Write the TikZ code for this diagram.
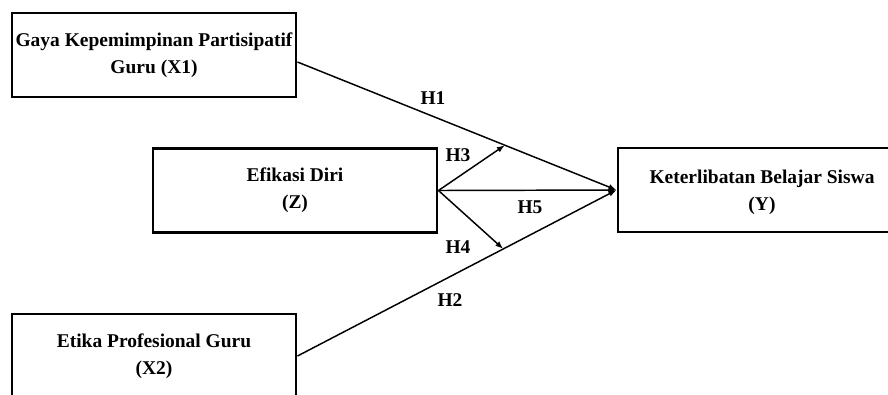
\documentclass[tikz,border=0pt]{standalone}
\usepackage{fontspec}
\setmainfont{Liberation Serif}
\usetikzlibrary{arrows.meta}

\tikzset{every picture/.style={line width=0.75pt}}
\tikzset{
  varbox/.style={draw, line width=2.2pt, minimum width=213pt, minimum height=63pt,
    inner sep=0pt, align=center, font=\fontsize{14.6}{20}\selectfont\bfseries},
  hyplabel/.style={font=\fontsize{14.6}{18}\selectfont\bfseries, inner sep=0pt},
  hyparrow/.style={line width=1.1pt, -{Latex[length=6pt,width=4.5pt]}},
  hypline/.style={line width=1.1pt}
}

\begin{document}
\begin{tikzpicture}[x=0.75pt,y=0.75pt,yscale=-1,xscale=1]
\path[use as bounding box, clip] (0,0) rectangle (888,394);

%Shape: Rectangle [X1]
\node [varbox] (x1) at (154,55) {Gaya Kepemimpinan Partisipatif\\Guru (X1)};
%Shape: Rectangle [Z]
\node [varbox] (z) at (295,190.5) {Efikasi Diri\\(Z)};
%Shape: Rectangle [Y]
\node [varbox, minimum width=216pt, text depth=0pt] (y) at (762,190) {Keterlibatan Belajar Siswa\\(Y)};
%Shape: Rectangle [X2]
\node [varbox] (x2) at (154,356) {Etika Profesional Guru\\(X2)};

%Straight Lines [X1 -> Y]
\draw [hyparrow] ([yshift=5.25pt]x1.east) -- (y.west) coordinate[pos=0.65] (m1);
%Straight Lines [X2 -> Y]
\draw [hyparrow] (x2.east) -- (y.west) coordinate[pos=0.645] (m2);
%Straight Lines [Z -> Y]
\draw [hyparrow] (z.east) -- (y.west);
%Straight Lines [Z -> X1 line]
\draw [hyparrow] (z.east) -- (m1);
%Straight Lines [Z -> X2 line]
\draw [hyparrow] (z.east) -- (m2);

% Text Node
\node [hyplabel] (h1) at (433,98) {H1};
% Text Node
\node [hyplabel] (h2) at (450,300) {H2};
% Text Node
\node [hyplabel] (h3) at (458,155) {H3};
% Text Node
\node [hyplabel] (h4) at (458,247) {H4};
% Text Node
\node [hyplabel] (h5) at (530,207) {H5};

\end{tikzpicture}
\end{document}
